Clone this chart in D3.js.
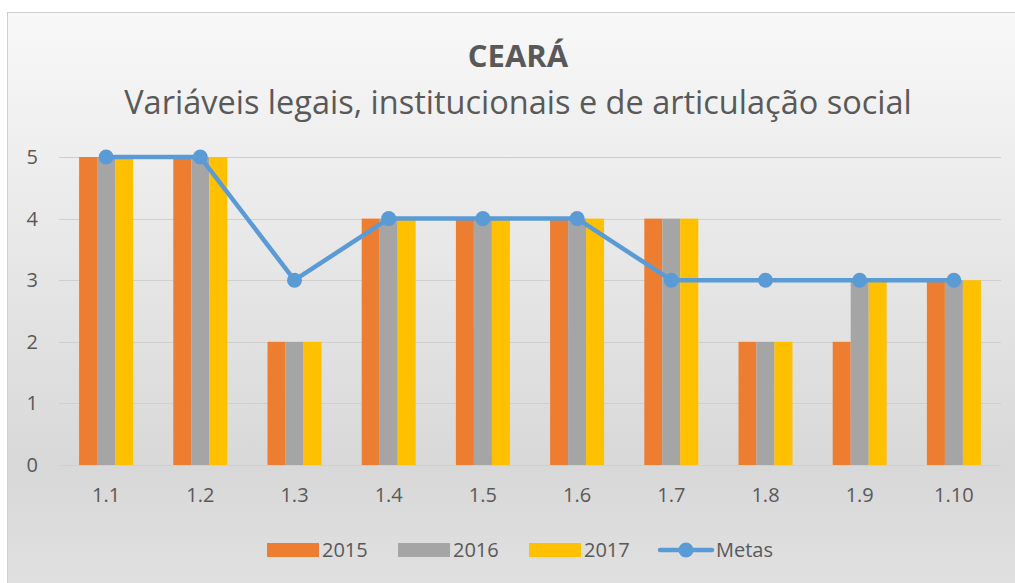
<!DOCTYPE html>
<html>
<head>
<meta charset="utf-8">
<script src="https://cdn.jsdelivr.net/npm/d3@7"></script>
<style>
  body { margin: 0; background: #fff; }
  text { font-family: "Open Sans", "Noto Sans", sans-serif; fill: #595959; }
</style>
</head>
<body>
<div id="chart"></div>
<script>
// data
var categories = ['1.1', '1.2', '1.3', '1.4', '1.5', '1.6', '1.7', '1.8', '1.9', '1.10'];
var s2015 = [5, 5, 2, 4, 4, 4, 4, 2, 2, 3];
var s2016 = [5, 5, 2, 4, 4, 4, 4, 2, 3, 3];
var s2017 = [5, 5, 2, 4, 4, 4, 4, 2, 3, 3];
var metas = [5, 5, 3, 4, 4, 4, 3, 3, 3, 3];
var yTicks = [0, 1, 2, 3, 4, 5];
var seriesNames = ['2015', '2016', '2017'];
var seriesColors = ['#ed7d31', '#a5a5a5', '#ffc000'];
var metasColor = '#5b9bd5';

var W = 1015, H = 583;
var margin = {top: 157, right: 16, bottom: 118, left: 59};
var width = W - margin.left - margin.right,
  height = H - margin.top - margin.bottom;

var svg = d3.select('#chart').append('svg')
  .attr('width', W)
  .attr('height', H);

// background gradient like the office chart
var grad = svg.append('defs').append('linearGradient')
  .attr('id', 'bg').attr('x1', 0).attr('y1', 0).attr('x2', 0).attr('y2', 1);
grad.append('stop').attr('offset', '0%').attr('stop-color', '#f8f8f8');
grad.append('stop').attr('offset', '78%').attr('stop-color', '#d8d8d8');
grad.append('stop').attr('offset', '100%').attr('stop-color', '#e1e1e1');

svg.append('rect')
  .attr('x', 7.5).attr('y', 12.5)
  .attr('width', W).attr('height', H)
  .attr('fill', 'url(#bg)')
  .attr('stroke', '#d0d0d0');

// titles
svg.append('text')
  .attr('x', 518).attr('y', 67)
  .attr('text-anchor', 'middle')
  .style('font-size', '31px').style('font-weight', 'bold')
  .text('CEARÁ');
svg.append('text')
  .attr('x', 518).attr('y', 114)
  .attr('text-anchor', 'middle')
  .style('font-size', '32.5px')
  .text('Variáveis legais, institucionais e de articulação social');

var g = svg.append('g')
  .attr('transform', 'translate(' + margin.left + ',' + margin.top + ')');

var x = d3.scaleBand().domain(categories).range([0, width + 2]);
var y = d3.scaleLinear().domain([0, 5]).range([height, 0]);

var barW = 18;
var xs = d3.scaleBand().domain(seriesNames)
  .range([x.bandwidth() / 2 - barW * 1.5, x.bandwidth() / 2 + barW * 1.5]);

// grid lines
g.selectAll('.grid')
  .data(yTicks)
  .enter()
  .append('line')
  .attr('x1', 0).attr('x2', x.range()[1])
  .attr('y1', function (d) { return Math.round(y(d)) + 0.5; })
  .attr('y2', function (d) { return Math.round(y(d)) + 0.5; })
  .attr('stroke', '#cfcfcf')
  .attr('stroke-width', 1);

// y axis labels
var yAxis = g.append('g')
  .call(d3.axisLeft(y).tickValues(yTicks).tickFormat(d3.format('d')).tickSize(0).tickPadding(21));
yAxis.select('.domain').remove();
yAxis.selectAll('text').style('font-size', '20px').style('fill', '#595959');

// x axis labels
var xAxis = g.append('g')
  .attr('transform', 'translate(0,' + height + ')')
  .call(d3.axisBottom(x).tickSize(0).tickPadding(23));
xAxis.select('.domain').remove();
xAxis.selectAll('text').style('font-size', '20px').style('fill', '#595959');

// bars
var allSeries = [s2015, s2016, s2017];
allSeries.forEach(function (vals, si) {
  g.selectAll('.bar' + si)
    .data(vals)
    .enter()
    .append('rect')
    .attr('x', function (d, i) { return x(categories[i]) + xs(seriesNames[si]); })
    .attr('y', function (d) { return y(d); })
    .attr('width', xs.bandwidth())
    .attr('height', function (d) { return y(0) - y(d); })
    .attr('fill', seriesColors[si]);
});

// metas line
var line = d3.line()
  .x(function (d, i) { return x(categories[i]) + x.bandwidth() / 2; })
  .y(function (d) { return y(d); });
g.append('path')
  .datum(metas)
  .attr('d', line)
  .attr('fill', 'none')
  .attr('stroke', metasColor)
  .attr('stroke-width', 4.5)
  .attr('stroke-linejoin', 'round');
g.selectAll('.dot')
  .data(metas)
  .enter()
  .append('circle')
  .attr('cx', function (d, i) { return x(categories[i]) + x.bandwidth() / 2; })
  .attr('cy', function (d) { return y(d); })
  .attr('r', 7.5)
  .attr('fill', metasColor);

// legend
var legendX = [267, 398, 529];
seriesNames.forEach(function (name, i) {
  svg.append('rect')
    .attr('x', legendX[i]).attr('y', 543)
    .attr('width', 52).attr('height', 14)
    .attr('fill', seriesColors[i]);
  svg.append('text')
    .attr('x', legendX[i] + 55).attr('y', 557)
    .style('font-size', '20px')
    .text(name);
});
svg.append('line')
  .attr('x1', 660).attr('x2', 712)
  .attr('y1', 550).attr('y2', 550)
  .attr('stroke', metasColor).attr('stroke-width', 4.5)
  .attr('stroke-linecap', 'round');
svg.append('circle')
  .attr('cx', 686).attr('cy', 550).attr('r', 7.5)
  .attr('fill', metasColor);
svg.append('text')
  .attr('x', 716).attr('y', 557)
  .style('font-size', '20px')
  .text('Metas');
</script>
</body>
</html>
